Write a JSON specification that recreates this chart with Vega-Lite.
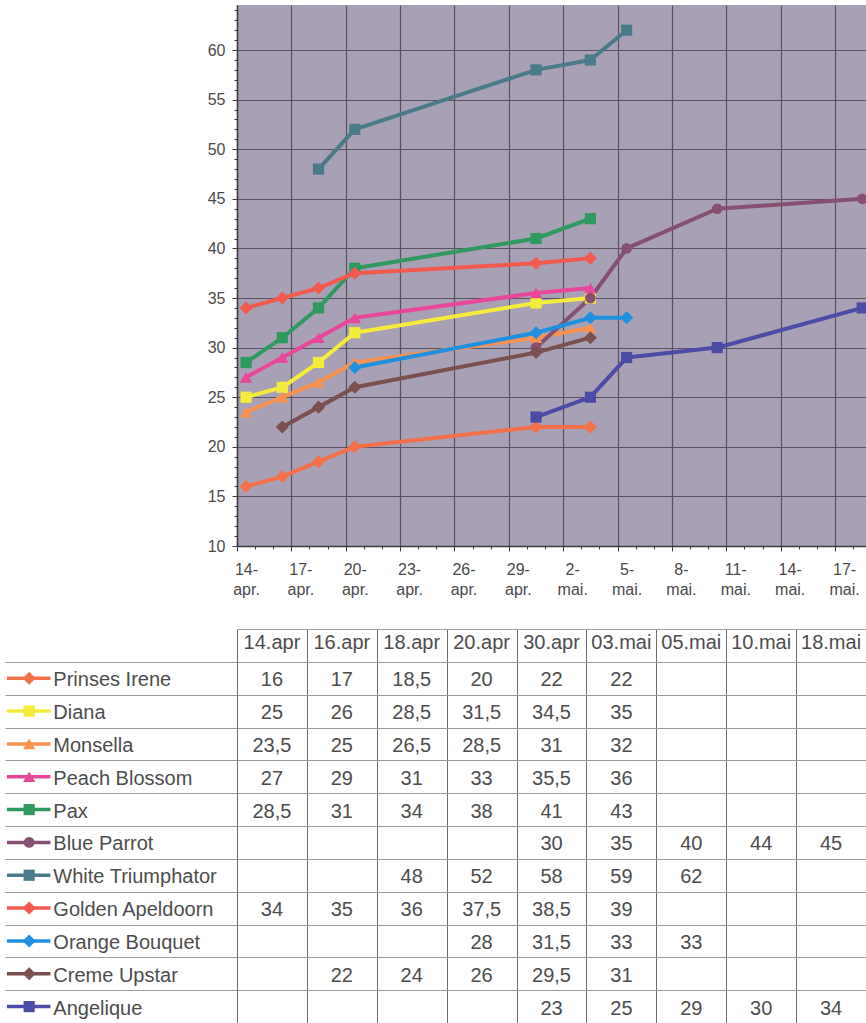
{
  "$schema": "https://vega.github.io/schema/vega-lite/v6.json",
  "padding": {"left": 5, "top": 5, "right": 0, "bottom": 0},
  "background": "white",
  "config": {
    "view": {"stroke": null},
    "font": "Liberation Sans",
    "locale": {"number": {"decimal": ",", "thousands": " ", "grouping": [3], "currency": ["", " kr"]}},
    "axis": {"labelFont": "Liberation Sans", "titleFont": "Liberation Sans"}
  },
  "datasets": {
    "maalinger": [
      {"serie": "Prinses Irene", "dato": "2008-04-14T00:00:00", "kolonne": "14.apr", "verdi": 16},
      {"serie": "Prinses Irene", "dato": "2008-04-16T00:00:00", "kolonne": "16.apr", "verdi": 17},
      {"serie": "Prinses Irene", "dato": "2008-04-18T00:00:00", "kolonne": "18.apr", "verdi": 18.5},
      {"serie": "Prinses Irene", "dato": "2008-04-20T00:00:00", "kolonne": "20.apr", "verdi": 20},
      {"serie": "Prinses Irene", "dato": "2008-04-30T00:00:00", "kolonne": "30.apr", "verdi": 22},
      {"serie": "Prinses Irene", "dato": "2008-05-03T00:00:00", "kolonne": "03.mai", "verdi": 22},
      {"serie": "Diana", "dato": "2008-04-14T00:00:00", "kolonne": "14.apr", "verdi": 25},
      {"serie": "Diana", "dato": "2008-04-16T00:00:00", "kolonne": "16.apr", "verdi": 26},
      {"serie": "Diana", "dato": "2008-04-18T00:00:00", "kolonne": "18.apr", "verdi": 28.5},
      {"serie": "Diana", "dato": "2008-04-20T00:00:00", "kolonne": "20.apr", "verdi": 31.5},
      {"serie": "Diana", "dato": "2008-04-30T00:00:00", "kolonne": "30.apr", "verdi": 34.5},
      {"serie": "Diana", "dato": "2008-05-03T00:00:00", "kolonne": "03.mai", "verdi": 35},
      {"serie": "Monsella", "dato": "2008-04-14T00:00:00", "kolonne": "14.apr", "verdi": 23.5},
      {"serie": "Monsella", "dato": "2008-04-16T00:00:00", "kolonne": "16.apr", "verdi": 25},
      {"serie": "Monsella", "dato": "2008-04-18T00:00:00", "kolonne": "18.apr", "verdi": 26.5},
      {"serie": "Monsella", "dato": "2008-04-20T00:00:00", "kolonne": "20.apr", "verdi": 28.5},
      {"serie": "Monsella", "dato": "2008-04-30T00:00:00", "kolonne": "30.apr", "verdi": 31},
      {"serie": "Monsella", "dato": "2008-05-03T00:00:00", "kolonne": "03.mai", "verdi": 32},
      {"serie": "Peach Blossom", "dato": "2008-04-14T00:00:00", "kolonne": "14.apr", "verdi": 27},
      {"serie": "Peach Blossom", "dato": "2008-04-16T00:00:00", "kolonne": "16.apr", "verdi": 29},
      {"serie": "Peach Blossom", "dato": "2008-04-18T00:00:00", "kolonne": "18.apr", "verdi": 31},
      {"serie": "Peach Blossom", "dato": "2008-04-20T00:00:00", "kolonne": "20.apr", "verdi": 33},
      {"serie": "Peach Blossom", "dato": "2008-04-30T00:00:00", "kolonne": "30.apr", "verdi": 35.5},
      {"serie": "Peach Blossom", "dato": "2008-05-03T00:00:00", "kolonne": "03.mai", "verdi": 36},
      {"serie": "Pax", "dato": "2008-04-14T00:00:00", "kolonne": "14.apr", "verdi": 28.5},
      {"serie": "Pax", "dato": "2008-04-16T00:00:00", "kolonne": "16.apr", "verdi": 31},
      {"serie": "Pax", "dato": "2008-04-18T00:00:00", "kolonne": "18.apr", "verdi": 34},
      {"serie": "Pax", "dato": "2008-04-20T00:00:00", "kolonne": "20.apr", "verdi": 38},
      {"serie": "Pax", "dato": "2008-04-30T00:00:00", "kolonne": "30.apr", "verdi": 41},
      {"serie": "Pax", "dato": "2008-05-03T00:00:00", "kolonne": "03.mai", "verdi": 43},
      {"serie": "Blue Parrot", "dato": "2008-04-30T00:00:00", "kolonne": "30.apr", "verdi": 30},
      {"serie": "Blue Parrot", "dato": "2008-05-03T00:00:00", "kolonne": "03.mai", "verdi": 35},
      {"serie": "Blue Parrot", "dato": "2008-05-05T00:00:00", "kolonne": "05.mai", "verdi": 40},
      {"serie": "Blue Parrot", "dato": "2008-05-10T00:00:00", "kolonne": "10.mai", "verdi": 44},
      {"serie": "Blue Parrot", "dato": "2008-05-18T00:00:00", "kolonne": "18.mai", "verdi": 45},
      {"serie": "White Triumphator", "dato": "2008-04-18T00:00:00", "kolonne": "18.apr", "verdi": 48},
      {"serie": "White Triumphator", "dato": "2008-04-20T00:00:00", "kolonne": "20.apr", "verdi": 52},
      {"serie": "White Triumphator", "dato": "2008-04-30T00:00:00", "kolonne": "30.apr", "verdi": 58},
      {"serie": "White Triumphator", "dato": "2008-05-03T00:00:00", "kolonne": "03.mai", "verdi": 59},
      {"serie": "White Triumphator", "dato": "2008-05-05T00:00:00", "kolonne": "05.mai", "verdi": 62},
      {"serie": "Golden Apeldoorn", "dato": "2008-04-14T00:00:00", "kolonne": "14.apr", "verdi": 34},
      {"serie": "Golden Apeldoorn", "dato": "2008-04-16T00:00:00", "kolonne": "16.apr", "verdi": 35},
      {"serie": "Golden Apeldoorn", "dato": "2008-04-18T00:00:00", "kolonne": "18.apr", "verdi": 36},
      {"serie": "Golden Apeldoorn", "dato": "2008-04-20T00:00:00", "kolonne": "20.apr", "verdi": 37.5},
      {"serie": "Golden Apeldoorn", "dato": "2008-04-30T00:00:00", "kolonne": "30.apr", "verdi": 38.5},
      {"serie": "Golden Apeldoorn", "dato": "2008-05-03T00:00:00", "kolonne": "03.mai", "verdi": 39},
      {"serie": "Orange Bouquet", "dato": "2008-04-20T00:00:00", "kolonne": "20.apr", "verdi": 28},
      {"serie": "Orange Bouquet", "dato": "2008-04-30T00:00:00", "kolonne": "30.apr", "verdi": 31.5},
      {"serie": "Orange Bouquet", "dato": "2008-05-03T00:00:00", "kolonne": "03.mai", "verdi": 33},
      {"serie": "Orange Bouquet", "dato": "2008-05-05T00:00:00", "kolonne": "05.mai", "verdi": 33},
      {"serie": "Creme Upstar", "dato": "2008-04-16T00:00:00", "kolonne": "16.apr", "verdi": 22},
      {"serie": "Creme Upstar", "dato": "2008-04-18T00:00:00", "kolonne": "18.apr", "verdi": 24},
      {"serie": "Creme Upstar", "dato": "2008-04-20T00:00:00", "kolonne": "20.apr", "verdi": 26},
      {"serie": "Creme Upstar", "dato": "2008-04-30T00:00:00", "kolonne": "30.apr", "verdi": 29.5},
      {"serie": "Creme Upstar", "dato": "2008-05-03T00:00:00", "kolonne": "03.mai", "verdi": 31},
      {"serie": "Angelique", "dato": "2008-04-30T00:00:00", "kolonne": "30.apr", "verdi": 23},
      {"serie": "Angelique", "dato": "2008-05-03T00:00:00", "kolonne": "03.mai", "verdi": 25},
      {"serie": "Angelique", "dato": "2008-05-05T00:00:00", "kolonne": "05.mai", "verdi": 29},
      {"serie": "Angelique", "dato": "2008-05-10T00:00:00", "kolonne": "10.mai", "verdi": 30},
      {"serie": "Angelique", "dato": "2008-05-18T00:00:00", "kolonne": "18.mai", "verdi": 34}
    ],
    "serier": [
      {"serie": "Prinses Irene"}, {"serie": "Diana"}, {"serie": "Monsella"}, {"serie": "Peach Blossom"},
      {"serie": "Pax"}, {"serie": "Blue Parrot"}, {"serie": "White Triumphator"}, {"serie": "Golden Apeldoorn"},
      {"serie": "Orange Bouquet"}, {"serie": "Creme Upstar"}, {"serie": "Angelique"}
    ],
    "kolonner": [
      {"kolonne": "14.apr"}, {"kolonne": "16.apr"}, {"kolonne": "18.apr"}, {"kolonne": "20.apr"},
      {"kolonne": "30.apr"}, {"kolonne": "03.mai"}, {"kolonne": "05.mai"}, {"kolonne": "10.mai"}, {"kolonne": "18.mai"}
    ]
  },
  "columns": 2,
  "align": "each",
  "bounds": "flush",
  "spacing": {"row": 83, "column": 0},
  "concat": [
    {
      "width": 232,
      "height": 541,
      "data": {"values": []},
      "mark": "point"
    },
    {
      "width": 629,
      "height": 541,
      "view": {"fill": "#a8a0b4", "stroke": null},
      "data": {"name": "maalinger"},
      "layer": [
        {
          "mark": {"type": "line", "strokeWidth": 4, "clip": true, "strokeJoin": "round"},
          "encoding": {
            "x": {
              "field": "dato", "type": "temporal",
              "scale": {"domain": [{"year": 2008, "month": 4, "date": 13, "hours": 12}, {"year": 2008, "month": 5, "date": 18, "hours": 5}]},
              "axis": {
                "orient": "bottom",
                "values": [
                  {"year": 2008, "month": 4, "date": 13, "hours": 12},
                  {"year": 2008, "month": 4, "date": 16, "hours": 12},
                  {"year": 2008, "month": 4, "date": 19, "hours": 12},
                  {"year": 2008, "month": 4, "date": 22, "hours": 12},
                  {"year": 2008, "month": 4, "date": 25, "hours": 12},
                  {"year": 2008, "month": 4, "date": 28, "hours": 12},
                  {"year": 2008, "month": 5, "date": 1, "hours": 12},
                  {"year": 2008, "month": 5, "date": 4, "hours": 12},
                  {"year": 2008, "month": 5, "date": 7, "hours": 12},
                  {"year": 2008, "month": 5, "date": 10, "hours": 12},
                  {"year": 2008, "month": 5, "date": 13, "hours": 12},
                  {"year": 2008, "month": 5, "date": 16, "hours": 12}
                ],
                "grid": true, "gridColor": "#58535f", "gridWidth": 1.2,
                "tickSize": 5, "tickColor": "#3d3d3d", "tickWidth": 1,
                "domainColor": "#3d3d3d", "domainWidth": 1.5,
                "labelExpr": "[date(time(datum.value) + 43200000) + '-', month(time(datum.value) + 43200000) == 3 ? 'apr.' : 'mai.']",
                "labelOffset": 9, "labelPadding": 10, "labelFontSize": 16, "labelColor": "#4a4a4a",
                "labelLineHeight": 20, "labelFlush": false, "labelOverlap": false, "labelBound": false,
                "title": null
              }
            },
            "y": {
              "field": "verdi", "type": "quantitative",
              "scale": {"domain": [10, 64.54], "nice": false, "zero": false},
              "axis": {
                "orient": "left",
                "values": [10, 15, 20, 25, 30, 35, 40, 45, 50, 55, 60],
                "grid": true, "gridColor": "#58535f", "gridWidth": 1.2,
                "tickSize": 5, "tickColor": "#3d3d3d",
                "domainColor": "#3d3d3d", "domainWidth": 1.5,
                "labelFontSize": 16, "labelColor": "#4a4a4a", "labelPadding": 7,
                "labelFlush": false, "title": null
              }
            },
            "color": {
              "field": "serie", "type": "nominal", "legend": null,
              "scale": {
                "domain": ["Prinses Irene", "Diana", "Monsella", "Peach Blossom", "Pax", "Blue Parrot", "White Triumphator", "Golden Apeldoorn", "Orange Bouquet", "Creme Upstar", "Angelique"],
                "range": ["#f3714a", "#f4ec3c", "#f79250", "#e8479a", "#2f9960", "#865070", "#4b7a88", "#f25a50", "#2090e0", "#7a5050", "#4c4ba6"]
              }
            }
          }
        },
        {
          "mark": {"type": "point", "filled": true, "opacity": 1, "clip": true},
          "encoding": {
            "x": {
              "field": "dato", "type": "temporal",
              "axis": {
                "orient": "bottom",
                "values": [
                  {"year": 2008, "month": 4, "date": 13, "hours": 12}, {"year": 2008, "month": 4, "date": 14, "hours": 12},
                  {"year": 2008, "month": 4, "date": 15, "hours": 12}, {"year": 2008, "month": 4, "date": 16, "hours": 12},
                  {"year": 2008, "month": 4, "date": 17, "hours": 12}, {"year": 2008, "month": 4, "date": 18, "hours": 12},
                  {"year": 2008, "month": 4, "date": 19, "hours": 12}, {"year": 2008, "month": 4, "date": 20, "hours": 12},
                  {"year": 2008, "month": 4, "date": 21, "hours": 12}, {"year": 2008, "month": 4, "date": 22, "hours": 12},
                  {"year": 2008, "month": 4, "date": 23, "hours": 12}, {"year": 2008, "month": 4, "date": 24, "hours": 12},
                  {"year": 2008, "month": 4, "date": 25, "hours": 12}, {"year": 2008, "month": 4, "date": 26, "hours": 12},
                  {"year": 2008, "month": 4, "date": 27, "hours": 12}, {"year": 2008, "month": 4, "date": 28, "hours": 12},
                  {"year": 2008, "month": 4, "date": 29, "hours": 12}, {"year": 2008, "month": 4, "date": 30, "hours": 12},
                  {"year": 2008, "month": 5, "date": 1, "hours": 12}, {"year": 2008, "month": 5, "date": 2, "hours": 12},
                  {"year": 2008, "month": 5, "date": 3, "hours": 12}, {"year": 2008, "month": 5, "date": 4, "hours": 12},
                  {"year": 2008, "month": 5, "date": 5, "hours": 12}, {"year": 2008, "month": 5, "date": 6, "hours": 12},
                  {"year": 2008, "month": 5, "date": 7, "hours": 12}, {"year": 2008, "month": 5, "date": 8, "hours": 12},
                  {"year": 2008, "month": 5, "date": 9, "hours": 12}, {"year": 2008, "month": 5, "date": 10, "hours": 12},
                  {"year": 2008, "month": 5, "date": 11, "hours": 12}, {"year": 2008, "month": 5, "date": 12, "hours": 12},
                  {"year": 2008, "month": 5, "date": 13, "hours": 12}, {"year": 2008, "month": 5, "date": 14, "hours": 12},
                  {"year": 2008, "month": 5, "date": 15, "hours": 12}, {"year": 2008, "month": 5, "date": 16, "hours": 12},
                  {"year": 2008, "month": 5, "date": 17, "hours": 12}
                ],
                "tickSize": 3, "tickColor": "#3d3d3d", "labels": false, "grid": false, "domain": false, "title": null
              }
            },
            "y": {
              "field": "verdi", "type": "quantitative",
              "axis": {
                "orient": "left",
                "values": [11, 12, 13, 14, 16, 17, 18, 19, 21, 22, 23, 24, 26, 27, 28, 29, 31, 32, 33, 34, 36, 37, 38, 39, 41, 42, 43, 44, 46, 47, 48, 49, 51, 52, 53, 54, 56, 57, 58, 59, 61, 62, 63, 64],
                "tickSize": 3, "tickColor": "#3d3d3d", "labels": false, "grid": false, "domain": false, "title": null
              }
            },
            "color": {
              "field": "serie", "type": "nominal", "legend": null,
              "scale": {
                "domain": ["Prinses Irene", "Diana", "Monsella", "Peach Blossom", "Pax", "Blue Parrot", "White Triumphator", "Golden Apeldoorn", "Orange Bouquet", "Creme Upstar", "Angelique"],
                "range": ["#f3714a", "#f4ec3c", "#f79250", "#e8479a", "#2f9960", "#865070", "#4b7a88", "#f25a50", "#2090e0", "#7a5050", "#4c4ba6"]
              }
            },
            "shape": {
              "field": "serie", "type": "nominal", "legend": null,
              "scale": {
                "domain": ["Prinses Irene", "Diana", "Monsella", "Peach Blossom", "Pax", "Blue Parrot", "White Triumphator", "Golden Apeldoorn", "Orange Bouquet", "Creme Upstar", "Angelique"],
                "range": ["diamond", "square", "triangle-up", "triangle-up", "square", "circle", "square", "diamond", "diamond", "diamond", "square"]
              }
            },
            "size": {
              "field": "serie", "type": "nominal", "legend": null,
              "scale": {
                "type": "ordinal",
                "domain": ["Prinses Irene", "Diana", "Monsella", "Peach Blossom", "Pax", "Blue Parrot", "White Triumphator", "Golden Apeldoorn", "Orange Bouquet", "Creme Upstar", "Angelique"],
                "range": [170, 125, 150, 150, 125, 115, 125, 170, 170, 170, 125]
              }
            }
          }
        }
      ],
      "resolve": {"axis": {"x": "independent", "y": "independent"}}
    },
    {
      "width": 232,
      "height": 394,
      "data": {"name": "serier"},
      "encoding": {
        "y": {
          "field": "serie", "type": "nominal",
          "scale": {"type": "band", "paddingInner": 0, "paddingOuter": 0,
            "domain": ["dato", "Prinses Irene", "Diana", "Monsella", "Peach Blossom", "Pax", "Blue Parrot", "White Triumphator", "Golden Apeldoorn", "Orange Bouquet", "Creme Upstar", "Angelique"]},
          "axis": {
            "grid": true, "tickBand": "extent", "labels": false, "ticks": false, "domain": false, "title": null,
            "gridColor": "#9a9a9a", "gridWidth": 1,
            "gridOpacity": {"condition": {"test": "!!datum.extra", "value": 0}, "value": 1}
          }
        },
        "color": {
          "field": "serie", "type": "nominal", "legend": null,
          "scale": {
            "domain": ["Prinses Irene", "Diana", "Monsella", "Peach Blossom", "Pax", "Blue Parrot", "White Triumphator", "Golden Apeldoorn", "Orange Bouquet", "Creme Upstar", "Angelique"],
            "range": ["#f3714a", "#f4ec3c", "#f79250", "#e8479a", "#2f9960", "#865070", "#4b7a88", "#f25a50", "#2090e0", "#7a5050", "#4c4ba6"]
          }
        }
      },
      "layer": [
        {
          "mark": {"type": "rule", "strokeWidth": 3.5},
          "encoding": {
            "x": {"datum": 2, "type": "quantitative", "scale": {"domain": [0, 232]}, "axis": null},
            "x2": {"datum": 47}
          }
        },
        {
          "mark": {"type": "point", "filled": true, "opacity": 1},
          "encoding": {
            "x": {"datum": 25, "type": "quantitative"},
            "shape": {
              "field": "serie", "type": "nominal", "legend": null,
              "scale": {
                "domain": ["Prinses Irene", "Diana", "Monsella", "Peach Blossom", "Pax", "Blue Parrot", "White Triumphator", "Golden Apeldoorn", "Orange Bouquet", "Creme Upstar", "Angelique"],
                "range": ["diamond", "square", "triangle-up", "triangle-up", "square", "circle", "square", "diamond", "diamond", "diamond", "square"]
              }
            },
            "size": {
              "field": "serie", "type": "nominal", "legend": null,
              "scale": {
                "type": "ordinal",
                "domain": ["Prinses Irene", "Diana", "Monsella", "Peach Blossom", "Pax", "Blue Parrot", "White Triumphator", "Golden Apeldoorn", "Orange Bouquet", "Creme Upstar", "Angelique"],
                "range": [130, 95, 115, 115, 95, 90, 95, 130, 130, 130, 95]
              }
            }
          }
        },
        {
          "mark": {"type": "text", "align": "left", "baseline": "middle", "fontSize": 20, "color": "#4d4d4d", "dy": 2},
          "encoding": {
            "x": {"datum": 50, "type": "quantitative"},
            "text": {"field": "serie"},
            "color": {"value": "#4d4d4d"}
          }
        }
      ]
    },
    {
      "width": 629,
      "height": 394,
      "encoding": {
        "x": {
          "field": "kolonne", "type": "nominal",
          "scale": {"type": "band", "paddingInner": 0, "paddingOuter": 0,
            "domain": ["14.apr", "16.apr", "18.apr", "20.apr", "30.apr", "03.mai", "05.mai", "10.mai", "18.mai"]},
          "axis": {"orient": "top", "grid": true, "tickBand": "extent", "labels": false, "ticks": false, "domain": false, "title": null, "gridColor": "#6e6e6e", "gridWidth": 1}
        },
        "y": {
          "field": "serie", "type": "nominal",
          "scale": {"type": "band", "paddingInner": 0, "paddingOuter": 0,
            "domain": ["dato", "Prinses Irene", "Diana", "Monsella", "Peach Blossom", "Pax", "Blue Parrot", "White Triumphator", "Golden Apeldoorn", "Orange Bouquet", "Creme Upstar", "Angelique"]},
          "axis": {"grid": true, "tickBand": "extent", "labels": false, "ticks": false, "domain": false, "title": null, "gridColor": "#9a9a9a", "gridWidth": 1}
        }
      },
      "layer": [
        {
          "data": {"name": "maalinger"},
          "mark": {"type": "text", "fontSize": 20, "color": "#4d4d4d", "baseline": "middle", "dy": 2},
          "encoding": {
            "text": {"field": "verdi", "type": "quantitative", "format": "~r"}
          }
        },
        {
          "data": {"name": "kolonner"},
          "mark": {"type": "text", "fontSize": 20, "color": "#4d4d4d", "baseline": "middle", "dy": -2},
          "encoding": {
            "y": {"datum": "dato"},
            "text": {"field": "kolonne"}
          }
        }
      ]
    }
  ]
}
